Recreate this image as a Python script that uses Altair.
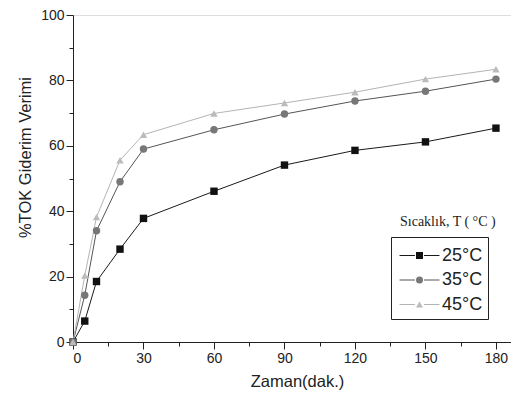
import altair as alt
import pandas as pd

times = [0, 5, 10, 20, 30, 60, 90, 120, 150, 180]
t25 = [0, 6.4, 18.5, 28.4, 37.8, 46.1, 54.1, 58.6, 61.2, 65.4]
t35 = [0, 14.3, 34.0, 49.0, 59.0, 64.9, 69.7, 73.7, 76.7, 80.4]
t45 = [0, 20.3, 38.2, 55.6, 63.4, 69.9, 73.1, 76.4, 80.4, 83.4]
series = ["25°C", "35°C", "45°C"]
line_colors = ["#1a1a1a", "#555555", "#b4b4b4"]
marker_colors = ["#111111", "#777777", "#bbbbbb"]
shapes = ["square", "circle", "triangle-up"]
x_major = [0, 30, 60, 90, 120, 150, 180]
x_minor = [15, 45, 75, 105, 135, 165]
y_major = [0, 20, 40, 60, 80, 100]
y_minor = [10, 30, 50, 70, 90]
legend_title = "Sıcaklık, T ( °C )"

rows = []
for name, vals in zip(series, [t25, t35, t45]):
    for t, v in zip(times, vals):
        rows.append({"t": t, "v": v, "s": name})
df = pd.DataFrame(rows)

FONT = "Liberation Sans"
xs = alt.Scale(domain=[0, 186.4], nice=False)
ys = alt.Scale(domain=[0, 100], nice=False)

x_axis = alt.Axis(values=x_major, tickSize=7, labelFont=FONT, labelFontSize=14,
                  labelColor="#222", domainColor="#222", tickColor="#222",
                  title="Zaman(dak.)", titleFont=FONT, titleFontSize=16.5,
                  titleFontWeight="normal", titleColor="#222", titlePadding=8,
                  titleX=224, grid=False, labelPadding=2, orient="bottom")
y_axis = alt.Axis(values=y_major, tickSize=7, labelFont=FONT, labelFontSize=14,
                  labelColor="#222", domainColor="#222", tickColor="#222",
                  title="%TOK Giderim Verimi", titleFont=FONT, titleFontSize=16.5,
                  titleFontWeight="normal", titleColor="#222", titlePadding=7,
                  titleY=142, grid=False, labelPadding=2, orient="left")

LX, LY = 318, 222
common = dict(title=" ", titleFontSize=4, titlePadding=0, orient="none",
              legendX=LX, legendY=LY, padding=5.5,
              labelFont=FONT, labelFontSize=18, symbolSize=49, symbolOffset=14,
              labelOffset=13.5, rowPadding=6.5, symbolStrokeWidth=1)

legend_lines = alt.Legend(
    strokeColor="#222", labelColor="#222",
    symbolType="M-5.7,0H-1.3M1.3,0H5.7", zindex=1, **common)
legend_marks = alt.Legend(
    labelOpacity=0, symbolOpacity=1, zindex=2, **common)

lines = alt.Chart(df).mark_line(strokeWidth=1).encode(
    x=alt.X("t:Q", scale=xs, axis=x_axis),
    y=alt.Y("v:Q", scale=ys, axis=y_axis),
    stroke=alt.Stroke("s:N", scale=alt.Scale(domain=series, range=line_colors),
                      legend=legend_lines),
    detail="s:N",
)

points = alt.Chart(df).mark_point(filled=True, opacity=1, size=55).encode(
    x=alt.X("t:Q", scale=xs, axis=None),
    y=alt.Y("v:Q", scale=ys, axis=None),
    fill=alt.Fill("s:N", scale=alt.Scale(domain=series, range=marker_colors),
                  legend=legend_marks),
    shape=alt.Shape("s:N", scale=alt.Scale(domain=series, range=shapes),
                    legend=legend_marks),
)

minor = alt.Chart(df).mark_point(opacity=0).encode(
    x=alt.X("t:Q", scale=xs, axis=alt.Axis(values=x_minor, tickSize=4, labels=False,
                                           domain=False, title=None, grid=False,
                                           tickColor="#222", orient="bottom")),
    y=alt.Y("v:Q", scale=ys, axis=alt.Axis(values=y_minor, tickSize=4, labels=False,
                                           domain=False, title=None, grid=False,
                                           tickColor="#222", orient="left")),
)

title_df = pd.DataFrame({"txt": [legend_title]})
ltitle = alt.Chart(title_df).mark_text(
    font="Liberation Serif", fontSize=14, align="left", baseline="middle", color="#222"
).encode(x=alt.value(327), y=alt.value(207), text="txt:N")

chart = alt.layer(lines, minor, points, ltitle).resolve_axis(
    x="independent", y="independent"
).resolve_scale(stroke="independent", fill="independent", shape="independent").properties(
    width=438, height=327,
    padding={"left": 65, "top": 7, "right": 0, "bottom": 50},
    autosize="none",
).configure_view(stroke=None).configure(background="white")

chart.save("out.html", embed_options={"renderer": "svg", "actions": False})
